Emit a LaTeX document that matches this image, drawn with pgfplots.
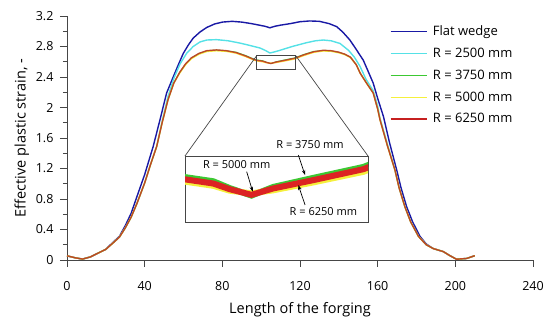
\documentclass[border=0pt]{standalone}
\usepackage{pgfplots}
\pgfplotsset{compat=1.18}
\usepackage{pgfplotstable}
\usepackage{fontspec}
\setmainfont{Open Sans}
\usetikzlibrary{arrows.meta}
\definecolor{blueW}{RGB}{25,25,165}
\definecolor{cyanW}{RGB}{85,225,230}
\definecolor{greenW}{RGB}{60,200,50}
\definecolor{yellowW}{RGB}{245,240,60}
\definecolor{redW}{RGB}{220,35,35}
\definecolor{axgray}{RGB}{70,70,70}

\pgfplotstableread{
x y
0 0.055
4 0.03
8 0.012
12 0.04
16 0.09
20 0.14
24 0.24
27 0.31
30 0.45
33 0.61
36 0.83
40 1.12
44.4 1.49
48 1.85
51.3 2.19
54.7 2.40
57.5 2.57
59.9 2.71
62.5 2.82
65 2.91
68.5 2.99
72 3.05
76 3.095
80 3.12
85 3.13
90 3.12
95 3.10
99 3.08
102 3.065
104.5 3.045
107 3.065
110 3.08
115 3.10
120 3.125
125 3.135
130 3.13
135 3.10
138.9 3.06
142 2.99
145.7 2.885
149 2.76
152.6 2.62
155 2.48
157.7 2.32
160 2.12
163 1.88
166 1.55
169.8 1.18
172 0.95
174.9 0.70
178 0.50
181.8 0.31
185 0.21
188.6 0.15
193.8 0.11
197 0.06
200.6 0.01
205.8 0.02
210 0.056
}\flat

\pgfplotstableread{
x y
0 0.055
4 0.03
8 0.012
12 0.04
16 0.09
20 0.14
24 0.23
27 0.30
30 0.42
33 0.56
36 0.74
40 1.01
43 1.25
46.2 1.49
49 1.82
52 2.14
55 2.38
58.2 2.57
61.6 2.71
65 2.80
68.5 2.86
72 2.885
77 2.89
83 2.875
89 2.845
94 2.815
99.4 2.78
102 2.75
104.5 2.715
107 2.73
109.7 2.75
116 2.80
123.4 2.85
128 2.875
132 2.885
136 2.875
140.6 2.84
145 2.75
148 2.66
150.9 2.54
154 2.37
157.7 2.22
160 2.02
161.2 1.86
165 1.52
168.9 1.18
171 0.95
174 0.70
177 0.50
181 0.31
185 0.20
188.6 0.15
193.8 0.11
197 0.06
200.6 0.01
205.8 0.02
210 0.056
}\rtwo

\pgfplotstableread{
x y
0 0.055
4 0.03
8 0.012
12 0.04
16 0.09
20 0.14
24 0.23
27 0.30
30 0.42
33 0.56
36 0.74
40 1.01
43 1.25
46.2 1.49
49 1.80
52 2.10
55 2.32
58 2.46
61 2.57
64 2.65
68 2.71
72 2.745
77 2.755
82 2.745
87 2.726
92 2.681
96 2.638
97.7 2.624
100.8 2.613
102.6 2.595
105 2.575
107.4 2.598
111.8 2.622
117.3 2.651
122 2.696
127 2.735
132 2.75
136 2.745
140 2.725
143 2.70
146 2.66
149 2.56
151 2.45
154 2.33
157.7 2.19
160 1.98
161.2 1.84
165 1.50
168.9 1.18
171 0.95
174 0.70
177 0.50
181 0.31
185 0.20
188.6 0.15
193.8 0.11
197 0.06
200.6 0.01
205.8 0.02
210 0.056
}\rthree

\pgfplotstableread{
x y
0 0.055
4 0.03
8 0.012
12 0.04
16 0.09
20 0.14
24 0.23
27 0.30
30 0.42
33 0.56
36 0.74
40 1.01
43 1.25
46.2 1.49
49 1.80
52 2.10
55 2.32
58 2.45
61 2.56
64 2.64
68 2.70
72 2.735
77 2.745
82 2.737
87 2.714
92 2.669
96 2.626
97.7 2.612
100.8 2.601
102.6 2.588
105 2.581
107.4 2.589
111.8 2.610
117.3 2.638
122 2.683
127 2.724
132 2.742
136 2.738
140 2.718
143 2.695
146 2.655
149 2.56
151 2.45
154 2.33
157.7 2.19
160 1.98
161.2 1.84
165 1.50
168.9 1.18
171 0.95
174 0.70
177 0.50
181 0.31
185 0.20
188.6 0.15
193.8 0.11
197 0.06
200.6 0.01
205.8 0.02
210 0.056
}\rfive

\pgfplotstableread{
x y
0 0.055
4 0.03
8 0.012
12 0.04
16 0.09
20 0.14
24 0.23
27 0.30
30 0.42
33 0.56
36 0.74
40 1.01
43 1.25
46.2 1.49
49 1.80
52 2.10
55 2.32
58 2.46
61 2.57
64 2.65
68 2.71
72 2.745
77 2.755
82 2.745
87 2.72
92 2.675
96 2.632
97.7 2.618
100.8 2.607
102.6 2.592
105 2.577
107.4 2.594
111.8 2.616
117.3 2.645
122 2.69
127 2.73
132 2.75
136 2.745
140 2.725
143 2.70
146 2.66
149 2.56
151 2.45
154 2.33
157.7 2.19
160 1.98
161.2 1.84
165 1.50
168.9 1.18
171 0.95
174 0.70
177 0.50
181 0.31
185 0.20
188.6 0.15
193.8 0.11
197 0.06
200.6 0.01
205.8 0.02
210 0.056
}\rsix

\begin{document}
\begin{tikzpicture}
\path[use as bounding box] (-67pt,-60pt) rectangle (483pt,260pt);
\begin{axis}[
  at={(0pt,0pt)}, anchor=south west,
  scale only axis, width=466pt, height=244pt,
  xmin=0, xmax=240, ymin=0, ymax=3.2,
  axis lines=left, axis line style={-, axgray, line width=0.9pt},
  xtick={0,40,...,240},
  ytick={0,0.4,0.8,1.2,1.6,2,2.4,2.8,3.2},
  minor y tick num=1,
  tick align=outside,
  major tick length=7pt, minor tick length=4pt,
  tick style={axgray, line width=0.9pt},
  /pgf/number format/assume math mode=true,
  ticklabel style={font=\fontsize{12.5}{15}\selectfont, text=black},
  xticklabel style={yshift=-11pt},
  yticklabel style={xshift=-3pt},
  xlabel={Length of the forging},
  ylabel={Effective plastic strain, -},
  label style={font=\fontsize{14.5}{17}\selectfont},
  xlabel style={at={(axis description cs:0.5,0)}, anchor=center, yshift=-50pt},
  ylabel style={at={(rel axis cs:-0.097,0.5)}, anchor=center},
  legend style={draw=none, fill=none, at={(axis cs:166.3,3.09)}, anchor=north west,
    font=\fontsize{13}{15.6}\selectfont, row sep=7.8pt, inner sep=0pt,
    nodes={inner sep=1.5pt}, /tikz/every odd column/.append style={column sep=4pt}},
  legend cell align=left,
  legend image code/.code={\draw[#1] (0pt,0pt) -- (36pt,0pt);},
]
\addlegendimage{blueW, line width=1.3pt}
\addlegendentry{Flat wedge}
\addlegendimage{cyanW, line width=1.3pt}
\addlegendentry{R = 2500 mm}
\addlegendimage{greenW, line width=1.3pt}
\addlegendentry{R = 3750 mm}
\addlegendimage{yellowW, line width=1.3pt}
\addlegendentry{R = 5000 mm}
\addlegendimage{redW!90!black, line width=1.3pt}
\addlegendentry{R = 6250 mm}
\addplot[blueW, line width=1.4pt, forget plot] table {\flat};
\addplot[cyanW, line width=1.4pt, forget plot] table {\rtwo};
\addplot[yellowW, line width=1.5pt, forget plot] table {\rfive};
\addplot[greenW, line width=1.0pt, forget plot] table {\rthree};
\addplot[redW, line width=1.4pt, draw opacity=0.78, forget plot] table {\rsix};
\draw[axgray, line width=0.8pt] (axis cs:97.7,2.505) rectangle (axis cs:117.8,2.68);
\coordinate (rtl) at (axis cs:97.7,2.68);
\coordinate (rtr) at (axis cs:117.8,2.68);
\end{axis}

\begin{axis}[
  name=inset,
  at={(118pt,38pt)}, anchor=south west,
  scale only axis, width=183pt, height=66pt,
  xmin=97.7, xmax=117.8, ymin=2.505, ymax=2.68,
  xtick=\empty, ytick=\empty,
  clip mode=individual,
  axis line style={axgray, line width=0.9pt},
  axis background/.style={fill=white},
]
\addplot[greenW, line width=6pt] table {\rthree};
\addplot[yellowW, line width=6pt] table {\rfive};
\addplot[redW, line width=6pt] table {\rsix};
\node[font=\fontsize{11}{13}\selectfont, anchor=center] at (rel axis cs:0.683,1.18) {R = 3750 mm};
\node[font=\fontsize{11}{13}\selectfont, anchor=center] at (rel axis cs:0.2825,0.874) {R = 5000 mm};
\node[font=\fontsize{11}{13}\selectfont, anchor=center] at (rel axis cs:0.756,0.156) {R = 6250 mm};
\draw[black, line width=0.7pt, -{Stealth[length=5pt,width=3.5pt]}] (rel axis cs:0.619,1.015) -- (rel axis cs:0.656,0.712);
\draw[black, line width=0.7pt, -{Stealth[length=5pt,width=3.5pt]}] (rel axis cs:0.337,0.762) -- (rel axis cs:0.370,0.459);
\draw[black, line width=0.7pt, -{Stealth[length=5pt,width=3.5pt]}] (rel axis cs:0.656,0.258) -- (rel axis cs:0.619,0.561);
\end{axis}
\draw[axgray, line width=0.7pt] (rtl) -- (inset.north west);
\draw[axgray, line width=0.7pt] (rtr) -- (inset.north east);
\end{tikzpicture}
\end{document}
